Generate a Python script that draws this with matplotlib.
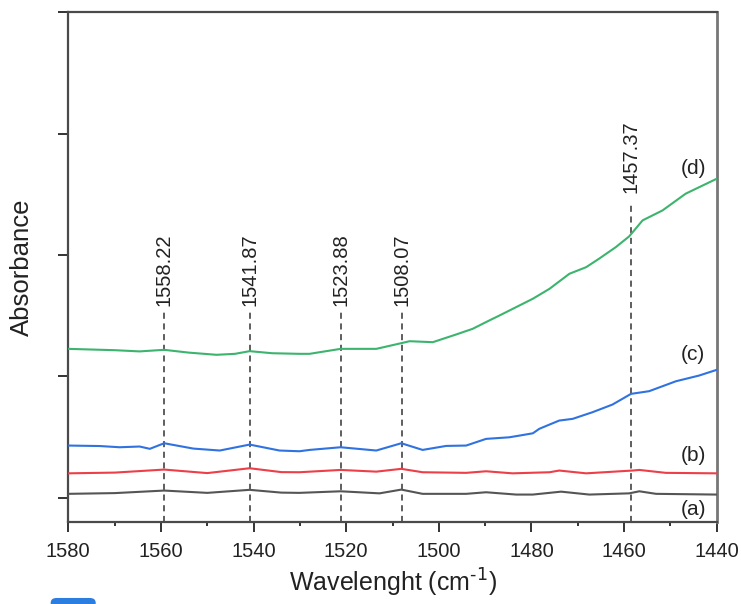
import matplotlib
matplotlib.use("Agg")
import matplotlib.pyplot as plt
from matplotlib.patches import FancyBboxPatch

plt.rcParams['font.family'] = ['Liberation Sans', 'DejaVu Sans']
plt.rcParams['mathtext.default'] = 'regular'

# ---- data ----
wn_a = [1580, 1570, 1559.3, 1550, 1540.85, 1534, 1530.1, 1521.2, 1512.8, 1508.1,
        1503.5, 1494.1, 1489.8, 1483.3, 1479.7, 1473.6, 1467.5, 1458.9, 1456.7,
        1453.1, 1440]
abs_a = [0.031, 0.037, 0.058, 0.039, 0.064, 0.041, 0.039, 0.052, 0.035, 0.066,
         0.031, 0.031, 0.044, 0.025, 0.025, 0.049, 0.025, 0.035, 0.052, 0.031, 0.025]

wn_b = [1580, 1570, 1559.3, 1550, 1540.85, 1534, 1530.1, 1521.2, 1513.5, 1508.1,
        1503.5, 1494.1, 1489.8, 1484.1, 1476.1, 1474.0, 1468.2, 1458.2, 1456.7,
        1451.0, 1440]
abs_b = [0.200, 0.206, 0.231, 0.202, 0.242, 0.210, 0.209, 0.228, 0.214, 0.237,
         0.209, 0.204, 0.217, 0.200, 0.209, 0.223, 0.200, 0.223, 0.228, 0.204, 0.200]

wn_c = [1580, 1573.2, 1568.9, 1564.6, 1562.4, 1559.3, 1553, 1547.3, 1540.85, 1534.4,
        1530.1, 1527.9, 1521.2, 1513.5, 1508.1, 1503.5, 1498.4, 1494.1, 1489.8,
        1484.8, 1482.6, 1479.7, 1478.3, 1476.1, 1474.0, 1471.1, 1466.8, 1462.5,
        1458.5, 1454.6, 1448.8, 1443.8, 1440]
abs_c = [0.429, 0.425, 0.415, 0.421, 0.402, 0.448, 0.404, 0.388, 0.437, 0.388,
         0.382, 0.393, 0.415, 0.388, 0.448, 0.393, 0.426, 0.429, 0.484,
         0.497, 0.511, 0.530, 0.567, 0.602, 0.635, 0.649, 0.704, 0.767,
         0.855, 0.877, 0.959, 1.006, 1.053]

wn_d = [1580, 1570, 1564.6, 1559.3, 1554, 1548, 1544, 1540.85, 1536, 1530.1,
        1527.9, 1521.2, 1513.5, 1508.1, 1506.3, 1501.3, 1496.3, 1492.7, 1489.1,
        1486.9, 1479.7, 1476.1, 1471.8, 1468.2, 1465.4, 1461.8, 1458.9, 1456.0,
        1451.7, 1446.7, 1440]
abs_d = [1.226, 1.215, 1.205, 1.218, 1.195, 1.177, 1.185, 1.207, 1.190, 1.185,
         1.185, 1.226, 1.226, 1.273, 1.289, 1.281, 1.344, 1.391, 1.460,
         1.501, 1.639, 1.721, 1.845, 1.899, 1.969, 2.064, 2.153, 2.285,
         2.367, 2.505, 2.628]

series_names = ['(a)', '(b)', '(c)', '(d)']
series_colors = ['#555555', '#ec3f48', '#2f72e0', '#3cb46e']

peak_positions = [1559.3, 1540.8, 1521.05, 1508.0, 1458.55]
peak_labels = ['1558.22', '1541.87', '1523.88', '1508.07', '1457.37']
peak_tops = [1.53, 1.53, 1.53, 1.53, 2.44]
peak_label_bottoms = [1.58, 1.58, 1.58, 1.58, 2.51]

name_y = [-0.096, 0.351, 1.176, 2.715]

# ---- figure ----
fig = plt.figure(figsize=(7.41, 6.04), dpi=100)
ax = fig.add_axes([68.3 / 741, 1 - 521.5 / 604, (716.7 - 68.3) / 741, (521.5 - 12.3) / 604])

for wn, ab, col in zip([wn_a, wn_b, wn_c, wn_d], [abs_a, abs_b, abs_c, abs_d], series_colors):
    ax.plot(wn, ab, color=col, lw=1.5, solid_capstyle='round', zorder=3)

y0 = -0.197
for px, lab, top, lb in zip(peak_positions, peak_labels, peak_tops, peak_label_bottoms):
    ax.plot([px, px], [y0, top], color='#333333', lw=1.1, dashes=(4, 3), zorder=2)
    ax.text(px, lb, lab, rotation=90, ha='center', va='bottom', fontsize=14.5, color='#222222')

for nm, ny in zip(series_names, name_y):
    ax.text(1445.1, ny, nm, ha='center', va='center', fontsize=15, color='#222222')

ax.set_xlim(1580, 1440)
ax.set_ylim(y0, 4.0)
ax.set_xticks([1580, 1560, 1540, 1520, 1500, 1480, 1460, 1440])
ax.set_xticks([1570, 1550, 1530, 1510, 1490, 1470, 1450], minor=True)
ax.set_yticks([0, 1, 2, 3, 4])
ax.set_yticklabels([])
ax.tick_params(axis='x', which='major', direction='out', length=7, width=1.4,
               labelsize=14.5, pad=8, colors='#333333', labelcolor='#222222')
ax.tick_params(axis='x', which='minor', direction='out', length=3, width=1.4, colors='#333333')
ax.tick_params(axis='y', which='major', direction='out', length=7.5, width=1.4, colors='#333333')

for side in ['left', 'bottom', 'top']:
    ax.spines[side].set_linewidth(1.6)
    ax.spines[side].set_color('#4a4a4a')
ax.spines['right'].set_linewidth(2.0)
ax.spines['right'].set_color('#777777')

ax.set_xlabel(r'Wavelenght (cm$^{\text{-1}}$)', fontsize=18, color='#222222', labelpad=4)
ax.set_ylabel('Absorbance', fontsize=18.5, color='#222222', labelpad=14)

# small blue artifact at the bottom edge
fig.patches.append(FancyBboxPatch((50.7 / 741, -0.02), 45 / 741, 0.03,
                                  boxstyle='round,pad=0,rounding_size=0.008',
                                  transform=fig.transFigure, facecolor='#2b7de0',
                                  edgecolor='none', figure=fig))

fig.savefig('out.png', dpi=100)
